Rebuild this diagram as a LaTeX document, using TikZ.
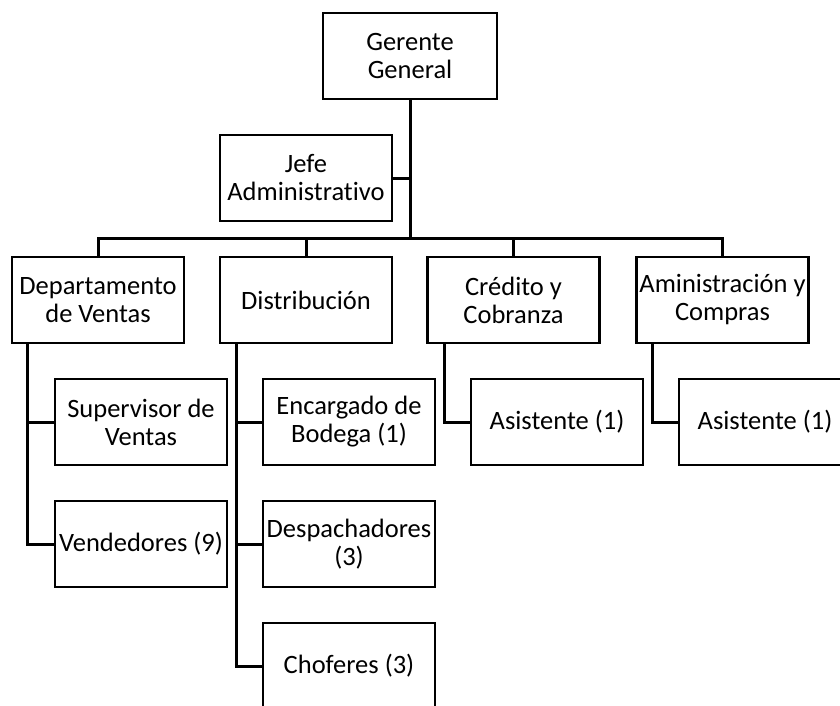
\documentclass[tikz,border=0pt]{standalone}
\usepackage{fontspec}
\setmainfont{Carlito}[Ligatures=NoCommon]
\usetikzlibrary{positioning}

\begin{document}
\begin{tikzpicture}[x=1pt, y=-1pt, font=\fontsize{26.5}{28}\selectfont,
  puesto/.style={draw, line width=2.8pt, align=center, minimum width=172pt, minimum height=86pt, inner sep=0pt},
  linea/.style={line width=3pt}]
\clip (0,0) rectangle (840,706);
\useasboundingbox (0,0) rectangle (840,706);
% nivel superior
\node[puesto, minimum width=174pt] (gg) at (410,56) {Gerente\\General};
\node[puesto] (jefe) at (306,178) {Jefe\\Administrativo};
\coordinate (bus) at (0,238);
% departamentos
\node[puesto] (dv) at (98,300) {Departamento\\de Ventas};
\node[puesto] (dist) at (306,300) {Distribución};
\node[puesto] (cc) at (513.5,300) {Crédito y\\Cobranza};
\node[puesto] (ac) at (722.5,300) {Aministración y\\Compras};
% puestos
\node[puesto] (sup) at (141,422) {Supervisor de\\Ventas};
\node[puesto] (ven) at (141,544) {Vendedores (9)};
\node[puesto] (enc) at (349,422) {Encargado de\\Bodega (1)};
\node[puesto] (desp) at (349,544) {Despachadores\\(3)};
\node[puesto] (chof) at (349,666) {Choferes (3)};
\node[puesto] (asis1) at (557,422) {Asistente (1)};
\node[puesto] (asis2) at (765,422) {Asistente (1)};
% conectores
\draw[linea] (gg.south) -- (gg.south |- bus);
\draw[linea] (jefe.east) -- (jefe.east -| gg.south);
\draw[linea] (dv.north) -- (dv.north |- bus) -- (ac.north |- bus) -- (ac.north);
\draw[linea] (dist.north) -- (dist.north |- bus);
\draw[linea] (cc.north) -- (cc.north |- bus);
\coordinate (dvx) at ([xshift=17pt]dv.south west);
\coordinate (distx) at ([xshift=18pt]dist.south west);
\coordinate (ccx) at ([xshift=18pt]cc.south west);
\coordinate (acx) at ([xshift=17pt]ac.south west);
\draw[linea] (dvx) |- (ven.west); \draw[linea] (sup.west) -- (sup.west -| dvx);
\draw[linea] (distx) |- (chof.west); \draw[linea] (enc.west) -- (enc.west -| distx); \draw[linea] (desp.west) -- (desp.west -| distx);
\draw[linea] (ccx) |- (asis1.west);
\draw[linea] (acx) |- (asis2.west);
\end{tikzpicture}
\end{document}
